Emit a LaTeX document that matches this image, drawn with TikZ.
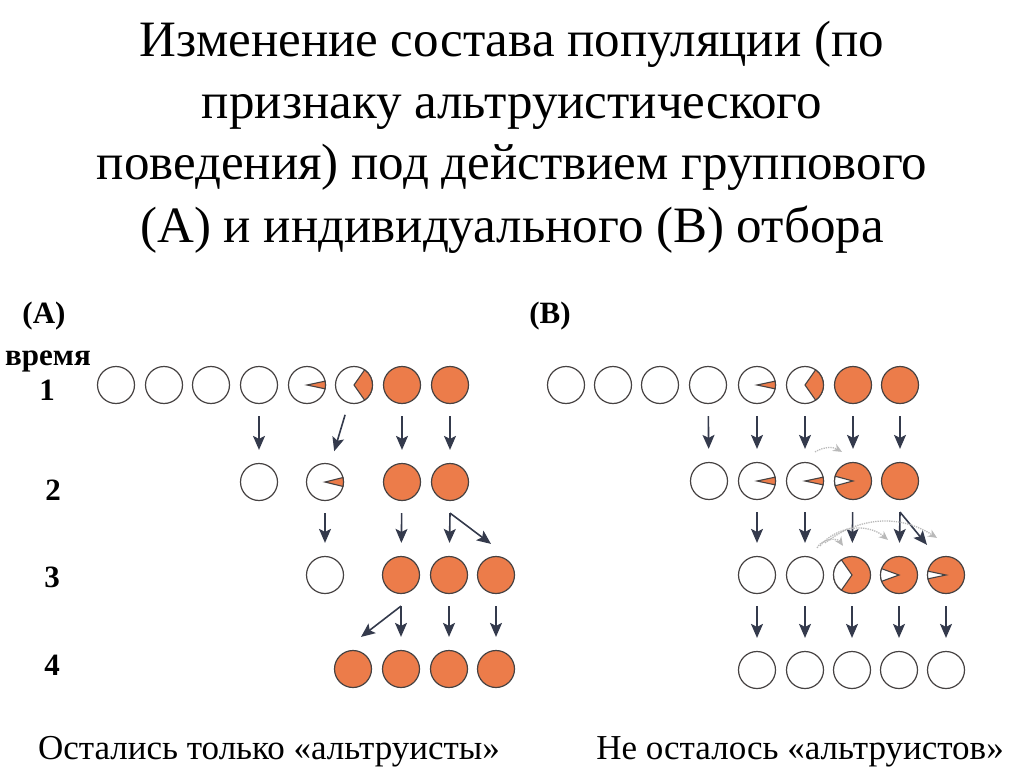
\documentclass[tikz,border=0pt]{standalone}
\usepackage{fontspec}
\setmainfont{Liberation Serif}
\usetikzlibrary{arrows.meta}
\definecolor{ora}{RGB}{236,124,74}
\definecolor{rim}{RGB}{70,66,66}
\definecolor{arr}{RGB}{52,58,76}
\newcommand{\slice}[4]{\filldraw [rim,line width=1.1pt,fill=#4] (#1.center) -- ++(#2:18.5) arc [start angle=#2,end angle=#3,radius=18.5] -- cycle;}

\begin{document}
\begin{tikzpicture}[x=1pt,y=-1pt]
 	\tikzstyle{every node}+=[inner sep=0pt]
 	\tikzstyle{wc}=[circle,draw=rim,line width=1.2pt,fill=white,minimum size=37pt]
 	\tikzstyle{oc}=[wc,fill=ora]
 	\tikzstyle{dn}=[-{Stealth[length=14pt,width=12pt,inset=3pt]},arr,line width=1.6pt,shorten <=12pt,shorten >=13pt]
 	\tikzstyle{mig}=[-{Stealth[length=9pt,width=8pt]},gray!55,line width=1.3pt,densely dotted]
 	\tikzstyle{lab}=[font=\fontsize{31}{31}\selectfont\bfseries]
 	\tikzstyle{ttl}=[anchor=base,font=\fontsize{51}{51}\selectfont]
 	\tikzstyle{btm}=[anchor=base,font=\fontsize{35}{35}\selectfont]
 	\useasboundingbox (0,0) rectangle (1024,767);
 	\node [ttl] (t1) at (512,57) {Изменение состава популяции (по};
 	\node [ttl] (t2) at (512,119) {признаку альтруистического};
 	\node [ttl] (t3) at (512,180) {поведения) под действием группового};
 	\node [ttl] (t4) at (512,242) {(А) и индивидуального (В) отбора};
 	\node [lab] (la) at (44,316) {(A)};
 	\node [lab,anchor=base] (lt) at (48,365) {время};
 	\node [lab,anchor=base] (l1) at (47,400) {1};
 	\node [lab,anchor=base] (l2) at (53,500) {2};
 	\node [lab,anchor=base] (l3) at (52,587) {3};
 	\node [lab,anchor=base] (l4) at (52,675) {4};
 	\node [lab] (lb) at (550,316) {(B)};
 	\node [wc] (a1a) at (116,385) {};
 	\node [wc] (a1b) at (164,385) {};
 	\node [wc] (a1c) at (211,385) {};
 	\node [wc] (a1d) at (259,385) {};
 	\node [wc] (a1e) at (307,385) {};
 	\node [wc] (a1f) at (354,385) {};
 	\node [oc] (a1g) at (402,385) {};
 	\node [oc] (a1h) at (450,385) {};
 	\node [wc] (a2a) at (259,482) {};
 	\node [wc] (a2b) at (325,482) {};
 	\node [oc] (a2c) at (402,482) {};
 	\node [oc] (a2d) at (450,482) {};
 	\node [wc] (a3a) at (325,575) {};
 	\node [oc] (a3b) at (401,575) {};
 	\node [oc] (a3c) at (449,575) {};
 	\node [oc] (a3d) at (496,575) {};
 	\node [oc] (a4a) at (353,669) {};
 	\node [oc] (a4b) at (401,669) {};
 	\node [oc] (a4c) at (449,669) {};
 	\node [oc] (a4d) at (496,669) {};
 	\node [wc] (b1a) at (566,385) {};
 	\node [wc] (b1b) at (613,385) {};
 	\node [wc] (b1c) at (660,385) {};
 	\node [wc] (b1d) at (708,385) {};
 	\node [wc] (b1e) at (757,385) {};
 	\node [wc] (b1f) at (805,385) {};
 	\node [oc] (b1g) at (853,385) {};
 	\node [oc] (b1h) at (900,385) {};
 	\node [wc] (b2a) at (709,481) {};
 	\node [wc] (b2b) at (757,481) {};
 	\node [wc] (b2c) at (805,481) {};
 	\node [oc] (b2d) at (853,481) {};
 	\node [oc] (b2e) at (900,481) {};
 	\node [wc] (b3a) at (757,575) {};
 	\node [wc] (b3b) at (805,575) {};
 	\node [oc] (b3c) at (852,575) {};
 	\node [oc] (b3d) at (899,575) {};
 	\node [oc] (b3e) at (946,575) {};
 	\node [wc] (b4a) at (757,670) {};
 	\node [wc] (b4b) at (805,670) {};
 	\node [wc] (b4c) at (852,670) {};
 	\node [wc] (b4d) at (899,670) {};
 	\node [wc] (b4e) at (946,670) {};
 	\slice{a1e}{-12}{12}{ora}
 	\slice{a1f}{-55}{55}{ora}
 	\slice{a2b}{-14}{14}{ora}
 	\slice{b1e}{-12}{12}{ora}
 	\slice{b1f}{-55}{55}{ora}
 	\slice{b2b}{-12}{12}{ora}
 	\slice{b2c}{-12}{12}{ora}
 	\slice{b2d}{165}{195}{white}
 	\slice{b3c}{125}{235}{white}
 	\slice{b3d}{160}{200}{white}
 	\slice{b3e}{168}{192}{white}
 	\draw [dn] (a1d) -- (a2a);
 	\draw [dn] (a1f) -- (a2b);
 	\draw [dn] (a1g) -- (a2c);
 	\draw [dn] (a1h) -- (a2d);
 	\draw [dn] (a2b) -- (a3a);
 	\draw [dn] (a2c) -- (a3b);
 	\coordinate (fa) at ([yshift=-12pt]a2d.south);
 	\draw [dn,shorten <=0pt] (fa) -- (a3c);
 	\draw [dn,shorten <=0pt,shorten >=0pt] (fa) -- ([shift={(-5pt,12pt)}]a3d.north);
 	\coordinate (fb) at ([yshift=-12pt]a3b.south);
 	\draw [dn,shorten <=0pt] (fb) -- (a4b);
 	\draw [dn,shorten <=0pt,shorten >=0pt] (fb) -- ([shift={(8pt,13pt)}]a4a.north);
 	\draw [dn] (a3c) -- (a4c);
 	\draw [dn] (a3d) -- (a4d);
 	\draw [dn] (b1d) -- (b2a);
 	\draw [dn] (b1e) -- (b2b);
 	\draw [dn] (b1f) -- (b2c);
 	\draw [dn] (b1g) -- (b2d);
 	\draw [dn] (b1h) -- (b2e);
 	\draw [dn] (b2b) -- (b3a);
 	\draw [dn] (b2c) -- (b3b);
 	\draw [dn] (b2d) -- (b3c);
 	\coordinate (fc) at ([yshift=-12pt]b2e.south);
 	\draw [dn,shorten <=0pt] (fc) -- (b3d);
 	\draw [dn,shorten <=0pt,shorten >=0pt] (fc) -- ([shift={(-19pt,11pt)}]b3e.north);
 	\draw [dn] (b3a) -- (b4a);
 	\draw [dn] (b3b) -- (b4b);
 	\draw [dn] (b3c) -- (b4c);
 	\draw [dn] (b3d) -- (b4d);
 	\draw [dn] (b3e) -- (b4e);
 	\draw [mig] ([shift={(10pt,10pt)}]b2c.north) to [bend left=30] ([shift={(-11pt,10pt)}]b2d.north);
 	\draw [mig] ([shift={(12pt,8pt)}]b3b.north) to [bend left=60] ([shift={(-9pt,10pt)}]b3c.north);
 	\draw [mig] ([shift={(15pt,10pt)}]b3b.north) to [bend left=45] ([shift={(-11pt,16pt)}]b3d.north);
 	\draw [mig] ([shift={(20pt,13pt)}]b3b.north) to [bend left=35] ([shift={(-9pt,18pt)}]b3e.north);
 	\node [btm] (ca) at (269,759) {Остались только «альтруисты»};
 	\node [btm] (cb) at (800,759) {Не осталось «альтруистов»};
\end{tikzpicture}
\end{document}
